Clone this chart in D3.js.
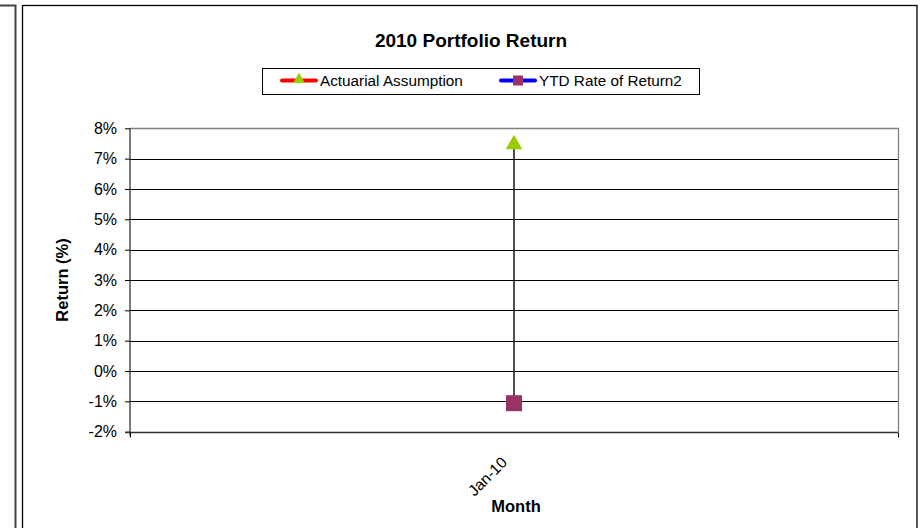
<!DOCTYPE html>
<html>
<head>
<meta charset="utf-8">
<script src="https://cdn.jsdelivr.net/npm/d3@7"></script>
<style>
  html, body { margin: 0; padding: 0; background: #fff; }
  svg { display: block; font-family: "Liberation Sans", Arial, sans-serif; }
</style>
</head>
<body>
<svg id="chart" width="923" height="528"></svg>
<script>
// ---- data ----
const categories = ["Jan-10"];
const actuarialAssumption = [0.075];
const ytdRateOfReturn = [-0.0106];
const seriesNames = ["Actuarial Assumption", "YTD Rate of Return2"];
const yTicks = [-0.02, -0.01, 0, 0.01, 0.02, 0.03, 0.04, 0.05, 0.06, 0.07, 0.08];
const titleText = "2010 Portfolio Return";
const xTitle = "Month";
const yTitle = "Return (%)";

const svg = d3.select("#chart");

// neighbouring chart edge on the left
svg.append("path").attr("d", "M0,5.5H15.5V528").attr("fill", "none")
  .attr("stroke", "#444").attr("stroke-width", 2);

// chart frame
svg.append("rect").attr("x", 22.5).attr("y", 5.5).attr("width", 894.5).attr("height", 540)
  .attr("fill", "#fff").attr("stroke", "#000").attr("stroke-width", 1.3);

const plot = { left: 130, right: 898, top: 128.3, bottom: 431.7 };

const x = d3.scaleBand().domain(categories).range([plot.left, plot.right]);
const y = d3.scaleLinear().domain([-0.02, 0.08]).range([plot.bottom, plot.top]);

// gridlines
svg.append("g").selectAll("line").data(yTicks.filter(t => t !== 0.08 && t !== -0.02)).join("line")
  .attr("x1", plot.left).attr("x2", plot.right)
  .attr("y1", d => Math.round(y(d)) + 0.5).attr("y2", d => Math.round(y(d)) + 0.5)
  .attr("stroke", "#000").attr("stroke-width", 1);

// plot border (top and right gray)
svg.append("path")
  .attr("d", `M${plot.left},${Math.round(plot.top)+0.5}H${plot.right+0.5}V${Math.round(plot.bottom)}`)
  .attr("fill", "none").attr("stroke", "#808080").attr("stroke-width", 1.3);

// y axis
const pct = d3.format(".0%");
const yAxis = d3.axisLeft(y).tickValues(yTicks)
  .tickFormat(d => pct(d).replace("\u2212", "-")).tickSize(5).tickPadding(8);
const gy = svg.append("g").attr("transform", `translate(${plot.left},0)`).call(yAxis);
gy.select(".domain").attr("stroke", "#333").attr("stroke-width", 1.3)
  .attr("d", `M0,${plot.top}V${plot.bottom + 4}`);
gy.selectAll(".tick line").attr("stroke", "#000");
gy.selectAll(".tick text").attr("font-size", 16).attr("fill", "#000")
  .attr("font-family", "Liberation Sans, Arial, sans-serif");

// x axis
const xAxis = d3.axisBottom(x).tickSize(0).tickFormat(d => d);
const gx = svg.append("g").attr("transform", `translate(0,${Math.round(plot.bottom) + 0.5})`).call(xAxis);
gx.select(".domain").attr("stroke", "#333").attr("stroke-width", 1.3)
  .attr("d", `M${plot.left - 5},0H${plot.right}`);
gx.selectAll(".tick text")
  .attr("font-size", 15.5).attr("fill", "#000")
  .attr("font-family", "Liberation Sans, Arial, sans-serif")
  .attr("text-anchor", "end")
  .attr("dy", 0).attr("y", 0)
  .attr("transform", "translate(-6,31) rotate(-45)");
// category boundary ticks
const edges = [plot.left, plot.right];
gx.selectAll(".edge").data(edges).join("line").attr("class", "edge")
  .attr("x1", d => d + 0.5).attr("x2", d => d + 0.5).attr("y1", 0).attr("y2", 5)
  .attr("stroke", "#000");

// high-low line between the series
const cx = d => x(d) + x.bandwidth() / 2;
svg.append("g").selectAll("line").data(categories).join("line")
  .attr("x1", d => cx(d)).attr("x2", d => cx(d))
  .attr("y1", (d, i) => y(actuarialAssumption[i]))
  .attr("y2", (d, i) => y(ytdRateOfReturn[i]))
  .attr("stroke", "#222").attr("stroke-width", 1.6);

// markers
const tri = d3.symbol().type(d3.symbolTriangle).size(120);
svg.append("g").selectAll("path").data(categories).join("path")
  .attr("d", tri)
  .attr("transform", (d, i) => `translate(${cx(d)},${y(actuarialAssumption[i]) + 1})`)
  .attr("fill", "#99cc00");
svg.append("g").selectAll("rect").data(categories).join("rect")
  .attr("x", d => cx(d) - 8).attr("y", (d, i) => y(ytdRateOfReturn[i]) - 8)
  .attr("width", 16).attr("height", 16).attr("fill", "#993366");

// title
svg.append("text").attr("x", 471).attr("y", 47).attr("text-anchor", "middle")
  .attr("font-size", 19).attr("font-weight", "bold").text(titleText);

// axis titles
svg.append("text").attr("x", 516).attr("y", 512).attr("text-anchor", "middle")
  .attr("font-size", 16.5).attr("font-weight", "bold").text(xTitle);
svg.append("text").attr("transform", "translate(68,280) rotate(-90)").attr("text-anchor", "middle")
  .attr("font-size", 16.5).attr("font-weight", "bold").text(yTitle);

// legend
const lg = svg.append("g");
lg.append("rect").attr("x", 262.5).attr("y", 68.5).attr("width", 437).attr("height", 26)
  .attr("fill", "#fff").attr("stroke", "#000").attr("stroke-width", 1);
const legendItems = [
  { name: seriesNames[0], color: "#ff0000", marker: "tri", mcolor: "#99cc00", x0: 280 },
  { name: seriesNames[1], color: "#0000ff", marker: "sq", mcolor: "#993366", x0: 499 }
];
legendItems.forEach(it => {
  lg.append("line").attr("x1", it.x0 + 2).attr("x2", it.x0 + 36).attr("y1", 80.5).attr("y2", 80.5)
    .attr("stroke", it.color).attr("stroke-width", 4).attr("stroke-linecap", "round");
  if (it.marker === "tri") {
    lg.append("path").attr("d", d3.symbol().type(d3.symbolTriangle).size(60))
      .attr("transform", `translate(${it.x0 + 19},79.5)`).attr("fill", it.mcolor);
  } else {
    lg.append("rect").attr("x", it.x0 + 14).attr("y", 75.5).attr("width", 10).attr("height", 10)
      .attr("fill", it.mcolor);
  }
  lg.append("text").attr("x", it.x0 + 40).attr("y", 86).attr("font-size", 15.3).text(it.name);
});
</script>
</body>
</html>
